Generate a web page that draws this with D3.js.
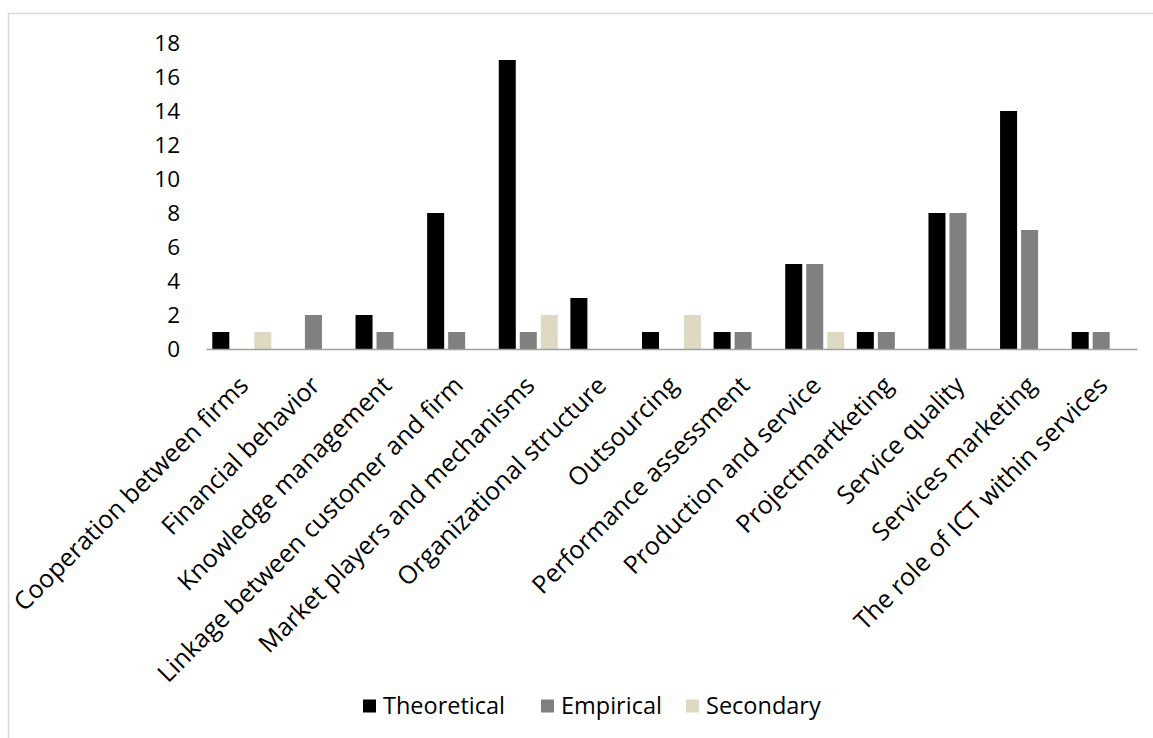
<!DOCTYPE html>
<html>
<head>
<meta charset="utf-8">
<script src="https://cdn.jsdelivr.net/npm/d3@7"></script>
<style>
  html, body { margin: 0; padding: 0; background: #fff; }
  svg { display: block; }
  text { font-family: "Open Sans", "Noto Sans", sans-serif; fill: #000; }
</style>
</head>
<body>
<svg id="chart" width="1153" height="738"></svg>
<script>
// Research topics and number of papers per type of study
const categories = [
  "Cooperation between firms",
  "Financial behavior",
  "Knowledge management",
  "Linkage between customer and firm",
  "Market players and mechanisms",
  "Organizational structure",
  "Outsourcing",
  "Performance assessment",
  "Production and service",
  "Projectmartketing",
  "Service quality",
  "Services marketing",
  "The role of ICT within services"
];
const seriesNames = ["Theoretical", "Empirical", "Secondary"];
const theoretical = [1, 0, 2, 8, 17, 3, 1, 1, 5, 1, 8, 14, 1];
const empirical   = [0, 2, 1, 1, 1, 0, 0, 1, 5, 1, 8, 7, 1];
const secondary   = [1, 0, 0, 0, 2, 0, 2, 0, 1, 0, 0, 0, 0];
const yTicks = [0, 2, 4, 6, 8, 10, 12, 14, 16, 18];
const colors = ["#000000", "#808080", "#ddd9c3"];

const seriesValues = [theoretical, empirical, secondary];
const rows = categories.map((c, i) => ({
  category: c,
  values: seriesNames.map((s, k) => ({ series: s, value: seriesValues[k][i] }))
}));

const svg = d3.select("#chart");

// outer chart frame
svg.append("rect")
  .attr("x", 8.5).attr("y", 13.5)
  .attr("width", 1300).attr("height", 900)
  .attr("fill", "none")
  .attr("stroke", "#d9d9d9")
  .attr("stroke-width", 1.5);

const plot = { left: 206, right: 1137, top: 43, bottom: 349 };

const x0 = d3.scaleBand()
  .domain(categories)
  .range([plot.left, plot.right])
  .paddingInner(0).paddingOuter(0);

const x1 = d3.scaleBand()
  .domain(seriesNames)
  .range([0, x0.bandwidth()])
  .paddingInner(0.19).paddingOuter(0.3);

const y = d3.scaleLinear().domain([0, 18]).range([plot.bottom, plot.top]);
const color = d3.scaleOrdinal().domain(seriesNames).range(colors);

// y axis labels only
const yAxis = svg.append("g")
  .attr("transform", `translate(${plot.left},0)`)
  .call(d3.axisLeft(y).tickValues(yTicks).tickSize(0).tickPadding(26));
yAxis.select(".domain").remove();
yAxis.selectAll("text")
  .style("font-family", '"Open Sans", sans-serif')
  .style("font-size", "22.5px")
  .attr("fill", "#000");

// bars
const groups = svg.append("g").selectAll("g")
  .data(rows)
  .join("g")
  .attr("transform", d => `translate(${x0(d.category)},0)`);

groups.selectAll("rect")
  .data(d => d.values.filter(v => v.value > 0))
  .join("rect")
  .attr("x", d => x1(d.series))
  .attr("width", x1.bandwidth())
  .attr("y", d => y(d.value))
  .attr("height", d => y(0) - y(d.value))
  .attr("fill", d => color(d.series));

// x axis
const xAxis = svg.append("g")
  .attr("transform", `translate(0,${plot.bottom})`)
  .call(d3.axisBottom(x0).tickSize(0).tickFormat(""));
xAxis.select(".domain")
  .attr("stroke", "#a0a0a0")
  .attr("stroke-width", 1.5);

// rotated category labels
svg.append("g").selectAll("text")
  .data(categories)
  .join("text")
  .attr("transform", d => `translate(${x0(d) + x0.bandwidth() / 2 + 8},${plot.bottom + 38}) rotate(-45)`)
  .attr("text-anchor", "end")
  .style("font-size", "25px")
  .text(d => d);

// legend
const legendItems = [
  { name: "Theoretical", x: 363 },
  { name: "Empirical", x: 541 },
  { name: "Secondary", x: 686 }
];
const legend = svg.append("g").selectAll("g")
  .data(legendItems)
  .join("g")
  .attr("transform", d => `translate(${d.x},706)`);
legend.append("rect")
  .attr("x", 0).attr("y", -6.5)
  .attr("width", 13).attr("height", 13)
  .attr("fill", d => color(d.name));
legend.append("text")
  .attr("x", 20).attr("y", 0)
  .attr("dy", "0.36em")
  .style("font-size", "23.5px")
  .text(d => d.name);
</script>
</body>
</html>
